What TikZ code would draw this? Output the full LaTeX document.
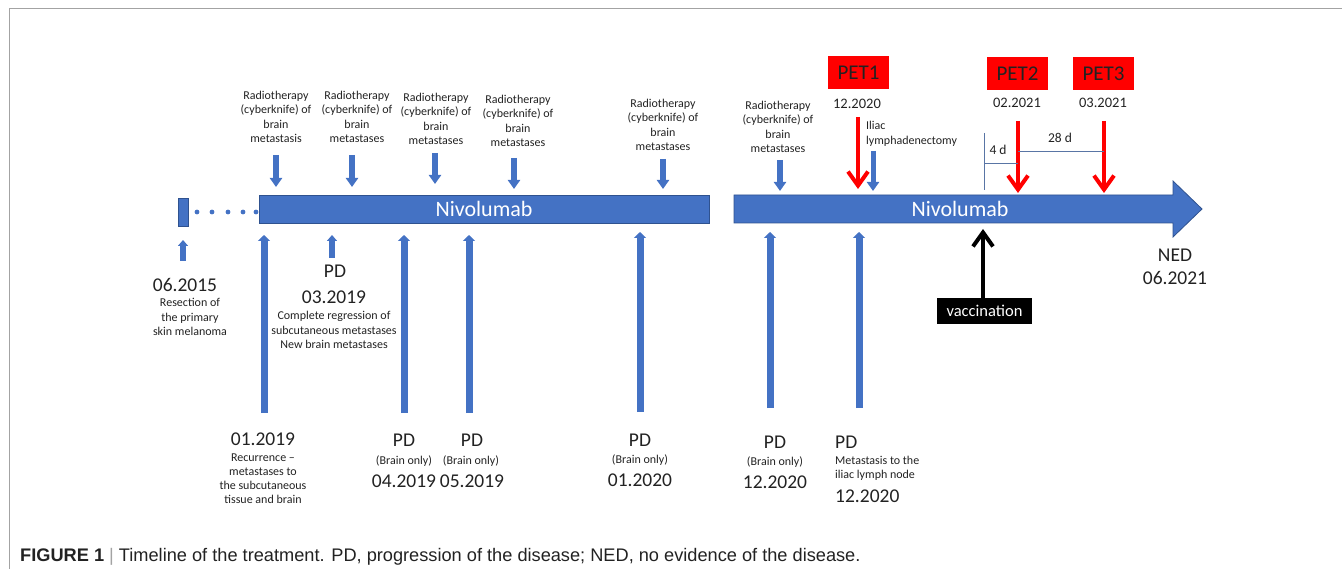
\documentclass[tikz,border=0pt]{standalone}
\usepackage{fontspec}
\setmainfont{Carlito}
\newfontfamily\capfont{Liberation Sans}
\usetikzlibrary{arrows.meta}
\definecolor{obl}{HTML}{4472C4}
\definecolor{obd}{HTML}{2F528F}
\definecolor{txt}{HTML}{222222}
\definecolor{frm}{HTML}{A3A3A3}
\tikzset{
  lbl/.style={font=\fontsize{12}{14.5}\selectfont, align=center, text=txt, inner sep=0pt},
  lbll/.style={font=\fontsize{12}{14.5}\selectfont, align=left, text=txt, inner sep=0pt},
  big/.style={font=\fontsize{19.5}{22}\selectfont, text=txt, inner sep=0pt},
  mid/.style={font=\fontsize{14.5}{17}\selectfont, text=txt, inner sep=0pt},
  dnarrow/.style={draw=obl, line width=6pt, -{Triangle[width=12pt,length=9pt]}},
  uparrow/.style={draw=obl, line width=7pt, -{Triangle[width=12pt,length=6pt]}},
  smallup/.style={draw=obl, line width=6pt, -{Triangle[width=10pt,length=6pt]}},
  vee/.style={line width=4pt, -{Straight Barb[width=20pt,length=14pt,line width=4pt]}},
  petbox/.style={fill=red, minimum width=61pt, minimum height=33pt, inner sep=0pt,
    font=\fontsize{21}{24}\selectfont, text=txt},
  bartext/.style={font=\fontsize{22}{26}\selectfont, text=white, inner sep=0pt},
  thin/.style={draw=obd!80, line width=0.9pt}
}
\begin{document}
\begin{tikzpicture}[x=1pt,y=-1pt]
\useasboundingbox (0,0) rectangle (1342,569);
% frame
\draw[frm, line width=1.4pt] (9.5,569) -- (9.5,8.7) -- (1342,8.7);

% start marker and dots
\fill[obl, draw=obd, line width=0.6pt] (178,198) rectangle (188,226);
\foreach \x in {197,212,228,243,256} \fill[obl] (\x,212) circle (2.4);

% bars
\node[fill=obl, draw=obd, line width=0.8pt, minimum width=450pt, minimum height=28pt, inner sep=0pt] (bar1) at (484,209) {};
\node[bartext] (niv1) at (484,209) {Nivolumab};
\draw[fill=obl, draw=obd, line width=0.8pt] (734,195) -- (1173,195) -- (1173,181) -- (1202,209) -- (1173,237) -- (1173,223) -- (734,223) -- cycle;
\node[bartext] (niv2) at (960,209) {Nivolumab};

% radiotherapy labels and arrows
\node[lbl] (rt1) at (276,117) {Radiotherapy\\(cyberknife) of\\brain\\metastasis};
\node[lbl] (rt2) at (357,117) {Radiotherapy\\(cyberknife) of\\brain\\metastases};
\node[lbl] (rt3) at (436,119) {Radiotherapy\\(cyberknife) of\\brain\\metastases};
\node[lbl] (rt4) at (518,121) {Radiotherapy\\(cyberknife) of\\brain\\metastases};
\node[lbl] (rt5) at (663,125) {Radiotherapy\\(cyberknife) of\\brain\\metastases};
\node[lbl] (rt6) at (778,127) {Radiotherapy\\(cyberknife) of\\brain\\metastases};
\node[lbll, anchor=west] (ili) at (866,134) {Iliac\\lymphadenectomy};
\coordinate (r1s) at (276,155); \coordinate (r1e) at (276,187);
\coordinate (r2s) at (352,155); \coordinate (r2e) at (352,187);
\coordinate (r3s) at (435,153); \coordinate (r3e) at (435,184);
\coordinate (r4s) at (514,158); \coordinate (r4e) at (514,189);
\coordinate (r5s) at (663,159); \coordinate (r5e) at (663,189);
\coordinate (r6s) at (780,160); \coordinate (r6e) at (780,191);
\coordinate (ils) at (873,151); \coordinate (ile) at (873,191);
\draw[dnarrow] (r1s) -- (r1e);
\draw[dnarrow] (r2s) -- (r2e);
\draw[dnarrow] (r3s) -- (r3e);
\draw[dnarrow] (r4s) -- (r4e);
\draw[dnarrow] (r5s) -- (r5e);
\draw[dnarrow] (r6s) -- (r6e);
\draw[dnarrow, line width=5pt] (ils) -- (ile);

% PET boxes
\node[petbox] (pet1) at (858.5,72.5) {PET1};
\node[petbox] (pet2) at (1017.5,74) {PET2};
\node[petbox] (pet3) at (1103.5,74) {PET3};
\node[mid] (p1d) at (857,104) {12.2020};
\node[mid] (p2d) at (1017,103) {02.2021};
\node[mid] (p3d) at (1103,103) {03.2021};
\coordinate (p1s) at (858,117); \coordinate (p1e) at (858,189);
\coordinate (p2s) at (1018,121); \coordinate (p2e) at (1018,193);
\coordinate (p3s) at (1104,121); \coordinate (p3e) at (1104,193);
\draw[vee, red] (p1s) -- (p1e);
\draw[vee, red] (p2s) -- (p2e);
\draw[vee, red] (p3s) -- (p3e);

% interval marks
\coordinate (vt) at (984,133); \coordinate (vb) at (984,190);
\draw[thin] (vt) -- (vb);
\coordinate (h4) at (984,163);
\draw[thin] (h4) -- (h4 -| p2s);
\coordinate (h28) at (1018,151);
\draw[thin] (h28) -- (h28 -| p3s);
\node[font=\fontsize{13.5}{16}\selectfont, text=txt, inner sep=0pt] (d4) at (998,150) {4 d};
\node[font=\fontsize{13.5}{16}\selectfont, text=txt, inner sep=0pt] (d28) at (1060,138) {28 d};

% NED
\node[big] (ned) at (1175,255) {NED};
\node[big] (ned2) at (1175,278) {06.2021};

% vaccination
\node[fill=black, text=white, minimum width=95pt, minimum height=26pt, inner sep=0pt,
  font=\fontsize{16.5}{19}\selectfont] (vac) at (984.5,311) {vaccination};
\coordinate (vace) at (983,229);
\draw[vee, black] (vac.north -| vace) -- (vace);

% 06.2015
\coordinate (a15s) at (183,261); \coordinate (a15e) at (183,240);
\draw[smallup] (a15s) -- (a15e);
\node[big] (d15) at (185,285) {06.2015};
\node[lbl] (res) at (190,317) {Resection of\\the primary\\skin melanoma};

% 03.2019
\coordinate (a0319s) at (332,258); \coordinate (a0319e) at (332,235);
\draw[smallup] (a0319s) -- (a0319e);
\node[big] (pd0319) at (335,271) {PD};
\node[big] (d0319) at (334,297) {03.2019};
\node[lbl] (c0319) at (334,330) {Complete regression of\\subcutaneous metastases\\New brain metastases};

% 01.2019
\coordinate (a0119s) at (264,413); \coordinate (a0119e) at (264,235);
\draw[uparrow] (a0119s) -- (a0119e);
\node[big] (d0119) at (263,439) {01.2019};
\node[font=\fontsize{12}{14}\selectfont, align=center, text=txt, inner sep=0pt] (rec) at (263,479) {Recurrence --\\metastases to\\the subcutaneous\\tissue and brain};

% 04.2019
\coordinate (a0419s) at (404,413); \coordinate (a0419e) at (404,235);
\draw[uparrow] (a0419s) -- (a0419e);
\node[big] (pd0419) at (404,440) {PD};
\node[lbl] (b0419) at (404,461) {(Brain only)};
\node[big] (d0419) at (404,481) {04.2019};

% 05.2019
\coordinate (a0519s) at (469,413); \coordinate (a0519e) at (469,235);
\draw[uparrow] (a0519s) -- (a0519e);
\node[big] (pd0519) at (472,440) {PD};
\node[lbl] (b0519) at (471,461) {(Brain only)};
\node[big] (d0519) at (472,481) {05.2019};

% 01.2020
\coordinate (a0120s) at (640,412); \coordinate (a0120e) at (640,232);
\draw[uparrow] (a0120s) -- (a0120e);
\node[big] (pd0120) at (640,440) {PD};
\node[lbl] (b0120) at (640,460) {(Brain only)};
\node[big] (d0120) at (640,480) {01.2020};

% 12.2020 a
\coordinate (a1220s) at (770,408); \coordinate (a1220e) at (770,232);
\draw[uparrow] (a1220s) -- (a1220e);
\node[big] (pd1220) at (775,442) {PD};
\node[lbl] (b1220) at (775,462) {(Brain only)};
\node[big] (d1220) at (775,482) {12.2020};

% 12.2020 b
\coordinate (b1220s) at (859,408); \coordinate (b1220e) at (859,232);
\draw[uparrow] (b1220s) -- (b1220e);
\node[big, anchor=west] (pdb1220) at (835,442) {PD};
\node[lbll, anchor=west] (mb1220) at (835,468.5) {Metastasis to the\\iliac lymph node};
\node[big, anchor=west] (db1220) at (835,496) {12.2020};

% caption
\node[anchor=base west, inner sep=0pt, font=\capfont\fontsize{18.2}{21}\selectfont, text=txt] (cap) at (20,561)
  {{\bfseries FIGURE 1} {\color{frm}|} Timeline of the treatment. PD, progression of the disease; NED, no evidence of the disease.};
\end{tikzpicture}
\end{document}
